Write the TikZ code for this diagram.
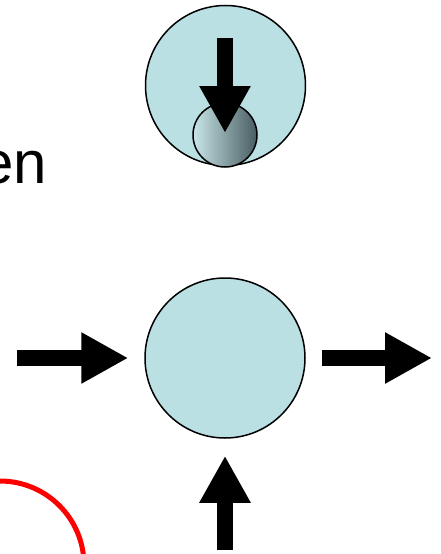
\documentclass[tikz,border=0pt]{standalone}
\usepackage{fontspec}
\setmainfont{Liberation Sans}
\usetikzlibrary{arrows.meta}
\definecolor{cellblue}{RGB}{186,224,227}
\definecolor{celldark}{RGB}{72,92,96}
\tikzstyle{cell} = [circle, draw=black, line width=1.5pt, fill=cellblue, minimum size=160pt, inner sep=0pt]
\tikzstyle{vesicle} = [circle, draw=black, line width=1.5pt, left color=cellblue!80!white, right color=celldark, minimum size=64pt, inner sep=0pt]
\tikzstyle{ring} = [circle, draw=red, line width=5pt, minimum size=168pt, inner sep=0pt]
\tikzstyle{blockarrow} = [line width=16pt, -{Triangle[length=47pt,width=48pt]}]

\begin{document}
\begin{tikzpicture}[x=1pt, y=-1pt]
    \clip (0,0) rectangle (440,554);
    \useasboundingbox (0,0) rectangle (440,554);

    \node (top) [cell] at (225.5,85.5) {};
    \node (small) [vesicle] at (225,135) {};
    \node (bottom) [cell] at (225,358) {};
    \node (ring) [ring] at (0,565) {};
    \node (label) [anchor=base east, inner sep=0pt, font=\fontsize{60}{72}\selectfont] at (47,183) {en};

    \coordinate (downstart) at (225,38);
    \coordinate (leftstart) at (17,358);
    \coordinate (rightend) at (432,358);
    \coordinate (upstart) at (225,550);

    \draw [blockarrow, shorten >=2pt] (downstart) -- (small.center);
    \draw [blockarrow, shorten >=16pt] (leftstart) -- (bottom.west);
    \draw [blockarrow, shorten <=16pt] (bottom.east) -- (rightend);
    \draw [blockarrow, shorten >=17pt] (upstart) -- (bottom.south);
\end{tikzpicture}
\end{document}
